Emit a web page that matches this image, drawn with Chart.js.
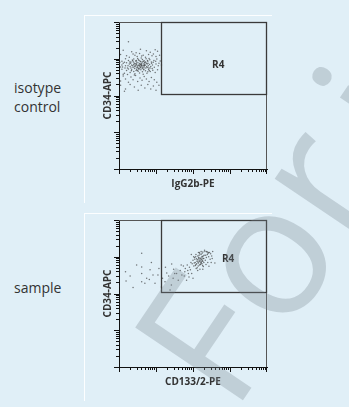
<!DOCTYPE html>
<html>
<head>
<meta charset="utf-8">
<script src="https://cdn.jsdelivr.net/npm/chart.js@4.4.0/dist/chart.umd.min.js"></script>
<style>
  body { margin: 0; background: #e0eff7; width: 349px; height: 407px; position: relative; overflow: hidden; font-family: 'Open Sans', sans-serif; }
  .panel { position: absolute; left: 84px; width: 188px; height: 188px; border-top: 1px solid rgba(255,255,255,0.9); border-left: 1px solid rgba(255,255,255,0.9); box-sizing: border-box; }
  .panel canvas { position: absolute; left: -1px; top: -1px; }
  .side { position: absolute; left: 14px; font-size: 14px; line-height: 19px; color: #333; }
  #mark { position: absolute; left: 0; top: 0; pointer-events: none; }
</style>
</head>
<body>
<div class="side" style="top:78px">isotype<br>control</div>
<div class="side" style="top:278px">sample</div>
<div class="panel" style="top:15px"><canvas id="isoChart" width="188" height="188"></canvas></div>
<div class="panel" style="top:213px"><canvas id="sampleChart" width="188" height="188"></canvas></div>
<svg id="mark" width="349" height="407">
  <g font-family="Open Sans" font-size="182" fill="rgba(120,132,142,0.3)">
    <text x="233" y="415" transform="rotate(-56 233 415)">For</text>
    <text x="412" y="165" transform="rotate(-56 412 165)">internal use only</text>
  </g>
</svg>
<script>
'use strict';

// isotype control: IgG2b-PE vs CD34-APC
let isoX = [1.3, 2.2, 3.8, 5.5, 7, 9.5, 2.9, 11,
  1.1, 1.6, 2.4, 3.1, 3.6, 4.5, 5.2, 6.3, 7.8, 8.5, 10, 12.5, 1.9, 2.7, 4.1,
  1.0, 1.2, 1.5, 1.8, 2.1, 2.5, 2.8, 3.2, 3.5, 3.9, 4.3, 4.8, 5.4, 6, 6.8, 7.5, 8.8, 10.5, 13, 1.4, 2.3, 3.0, 4.0, 5.0, 6.5,
  1.0, 1.1, 1.3, 1.5, 1.7, 1.9, 2.0, 2.2, 2.4, 2.6, 2.8, 3.0, 3.2, 3.4, 3.6, 3.8, 4.0, 4.2, 4.5, 4.8, 5.1, 5.5, 5.8, 6.2, 6.7, 7.2, 8, 9, 10, 11.5, 14,
  1.2, 1.6, 2.1, 2.9, 3.3, 3.7, 4.4, 4.9, 5.6, 6.4, 7.6, 2.5, 3.1, 3.5, 4.1, 4.6, 2.7, 3.9, 2.3,
  2.05, 2.35, 2.65, 2.95, 3.25, 3.45, 3.75, 4.05, 4.35, 4.65, 4.95, 5.3, 5.9, 2.15, 2.45, 2.75, 3.05, 3.35, 3.65, 3.95,
  4.25, 4.55, 4.85, 5.25, 5.75, 6.1, 6.9, 2.55, 3.15, 3.85, 1.45, 1.75, 1.95, 1.25, 1.05, 8.4, 9.8, 7.9, 12, 6.6,
  1.0, 1.2, 1.4, 1.6, 1.8, 2.0, 2.2, 2.5, 2.7, 3.0, 3.3, 3.6, 3.9, 4.3, 4.7, 5.2, 5.7, 6.3, 7, 8.2, 9.5, 11, 1.3, 2.9, 3.5, 4.5, 6,
  1.0, 1.1, 1.3, 1.5, 1.8, 2.1, 2.4, 2.8, 3.2, 3.7, 4.2, 4.8, 5.5, 6.5, 7.5, 9, 10.5, 2.6, 1.7,
  1.1, 1.5, 2.0, 2.6, 3.3, 4.0, 5.0, 6.0, 7.2, 8.5, 10, 12, 1.4,
  1.8];
let isoY = [1700, 1550, 1800, 1650, 1500, 1750, 1450, 1600,
  1300, 1200, 1350, 1150, 1400, 1250, 1100, 1300, 1200, 1350, 1150, 1250, 1100, 1250, 1180,
  950, 850, 1000, 900, 820, 980, 870, 1020, 900, 830, 960, 880, 1000, 850, 940, 820, 900, 980, 870, 800, 930, 810, 1050, 800, 1010,
  700, 600, 750, 650, 560, 720, 620, 680, 580, 760, 640, 700, 600, 660, 740, 570, 690, 630, 720, 600, 670, 750, 580, 650, 700, 620, 680, 590, 720, 640, 680,
  680, 780, 560, 740, 550, 610, 580, 770, 620, 560, 760, 700, 650, 690, 660, 640, 610, 720, 650,
  760, 880, 540, 900, 780, 520, 860, 760, 820, 500, 700, 560, 900, 470, 820, 720, 580, 940, 640, 600,
  540, 860, 660, 820, 720, 760, 560, 630, 480, 690, 560, 640, 820, 600, 800, 800, 860, 540, 760, 480,
  450, 520, 400, 480, 530, 420, 500, 450, 390, 520, 460, 410, 500, 440, 530, 470, 400, 510, 450, 490, 420, 500, 380, 480, 540, 380, 440,
  300, 250, 340, 280, 230, 320, 270, 350, 240, 300, 260, 330, 280, 240, 310, 270, 230, 360, 370,
  190, 150, 200, 170, 140, 190, 160, 200, 150, 180, 140, 190, 130,
  2900];

// sample: CD133/2-PE vs CD34-APC
let sampleX = [1.0, 1.5, 1.55, 2.4, 4.1, 4.1, 4.1, 4.1, 5.0, 5.6, 6.9, 6.6, 8.3, 9.4, 11.3, 12, 15, 17.5, 19.5, 22, 26.5, 29, 24, 26, 32, 36, 40, 3, 2, 7.5, 14, 30, 18,
  45, 50, 55, 60, 62, 67, 70, 75, 80, 85, 92, 95, 100, 48, 58, 72, 88, 78,
  100, 105, 110, 115, 120, 125, 128, 130, 135, 140, 145, 150, 155, 160, 165, 170, 175, 180, 185, 190, 195, 200,
  108, 118, 122, 132, 138, 142, 148, 152, 158, 162, 168, 172, 178, 182, 188, 196, 112, 126, 136, 144, 156, 164, 174, 186,
  116, 146, 176, 134, 154, 184, 104, 140, 166,
  210, 215, 220, 230, 240, 250, 255, 265, 280, 290, 300, 320, 340, 225, 245, 270, 310, 205, 235, 260, 185, 150, 120, 90, 330, 390];
let sampleY = [160, 390, 220, 145, 1250, 530, 350, 210, 190, 260, 440, 240, 320, 190, 320, 480, 260, 210, 360, 300, 630, 260, 125, 170, 350, 350, 230, 600, 300, 700, 150, 460, 520,
  420, 320, 560, 390, 480, 230, 600, 350, 520, 440, 350, 650, 260, 600, 300, 420, 700, 280,
  800, 560, 950, 700, 620, 880, 750, 500, 1050, 680, 820, 600, 930, 720, 1150, 850, 650, 1000, 760, 540, 900, 1100,
  680, 1000, 480, 830, 560, 960, 740, 1200, 620, 880, 700, 980, 800, 580, 1050, 700, 860, 640, 720, 900, 800, 650, 760, 900,
  580, 1100, 1250, 420, 460, 460, 1000, 1300, 1400,
  1400, 800, 1100, 950, 1350, 700, 1250, 1000, 1300, 850, 1200, 1050, 1400, 620, 1150, 550, 700, 1500, 1400, 1300, 1350, 1300, 1150, 1150, 900, 680];

// R4 gate corners (x from, x to, y from, y to)
let gateX = [14, 10000];
let gateY = [110, 10000];
let decades = [1, 10, 100, 1000, 10000];
let minorSteps = [2, 3, 4, 5, 6, 7, 8, 9];

let fontName = "'Open Sans', sans-serif";

let flowPlugin = {
  id: 'flow',
  afterDraw(chart) {
    let ctx = chart.ctx;
    let area = chart.chartArea;
    let x = chart.scales.x;
    let y = chart.scales.y;
    let opts = chart.options.plugins.flow;
    ctx.save();

    // frame top and right
    ctx.strokeStyle = '#555';
    ctx.lineWidth = 1;
    ctx.beginPath();
    ctx.moveTo(area.left, area.top + 0.5);
    ctx.lineTo(area.right - 0.5, area.top + 0.5);
    ctx.lineTo(area.right - 0.5, area.bottom);
    ctx.stroke();

    // gate R4
    let gx0 = Math.round(x.getPixelForValue(gateX[0])) + 0.5;
    let gx1 = Math.round(x.getPixelForValue(gateX[1])) - 0.5;
    let gy0 = Math.round(y.getPixelForValue(gateY[0])) + 0.5;
    let gy1 = Math.round(y.getPixelForValue(gateY[1])) + 0.5;
    ctx.strokeStyle = '#3a3a3a';
    ctx.lineWidth = 1.3;
    ctx.strokeRect(gx0, gy1, gx1 - gx0, gy0 - gy1);

    ctx.fillStyle = '#333';
    ctx.font = 'bold 10px ' + fontName;
    ctx.textAlign = 'center';
    ctx.textBaseline = 'middle';
    ctx.fillText('R4', x.getPixelForValue(opts.labelAt[0]), y.getPixelForValue(opts.labelAt[1]));

    // log ticks outside the axes
    ctx.strokeStyle = '#111';
    ctx.lineWidth = 1;
    ctx.beginPath();
    decades.forEach(function (d, k) {
      let vals = [[d, 5]];
      if (k < decades.length - 1) {
        minorSteps.forEach(function (s) { vals.push([d * s, 3]); });
      }
      vals.forEach(function (t) {
        let px = Math.round(x.getPixelForValue(t[0]));
        if (px >= area.right) px = area.right - 1;
        ctx.moveTo(px + 0.5, area.bottom);
        ctx.lineTo(px + 0.5, area.bottom + t[1]);
        let py = Math.round(y.getPixelForValue(t[0]));
        if (py < area.top) py = area.top;
        ctx.moveTo(area.left, py + 0.5);
        ctx.lineTo(area.left - t[1], py + 0.5);
      });
    });
    ctx.stroke();
    ctx.restore();
  }
};

function makeChart(id, xs, ys, xTitle, labelAt) {
  let points = xs.map(function (v, i) { return {x: v, y: ys[i]}; });
  let ctx = document.getElementById(id).getContext('2d');
  return new Chart(ctx, {
    type: 'scatter',
    data: {
      datasets: [{
        data: points,
        pointRadius: 0.75,
        pointBorderWidth: 0,
        pointBackgroundColor: 'rgba(50,50,50,0.65)'
      }]
    },
    options: {
      responsive: false,
      animation: false,
      devicePixelRatio: 1,
      layout: {padding: {top: 7, right: 5, left: 0, bottom: 0}},
      plugins: {
        legend: {display: false},
        tooltip: {enabled: false},
        flow: {labelAt: labelAt}
      },
      scales: {
        x: {
          type: 'logarithmic', min: 1, max: 10000,
          grid: {display: false},
          border: {display: true, color: '#111', width: 1},
          ticks: {display: false},
          title: {display: true, text: xTitle, color: '#333', font: {family: fontName, size: 10, weight: 'bold'}, padding: {top: 0, bottom: 13}},
          afterFit: function (s) { s.height = 34; }
        },
        y: {
          type: 'logarithmic', min: 1, max: 10000,
          grid: {display: false},
          border: {display: true, color: '#111', width: 1},
          ticks: {display: false},
          title: {display: true, text: 'CD34-APC', color: '#333', font: {family: fontName, size: 10, weight: 'bold'}, padding: {top: 18, bottom: 0}},
          afterFit: function (s) { s.width = 35; }
        }
      }
    },
    plugins: [flowPlugin]
  });
}

makeChart('isoChart', isoX, isoY, 'IgG2b-PE', [480, 690]);
makeChart('sampleChart', sampleX, sampleY, 'CD133/2-PE', [890, 870]);
</script>
</body>
</html>
